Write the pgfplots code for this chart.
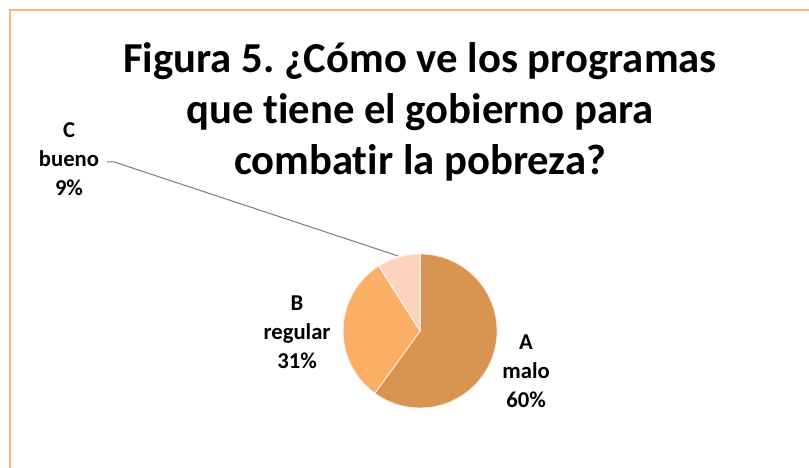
\documentclass[border=0pt]{standalone}
\usepackage{pgfplots}
\usepackage{pgfplotstable}
\pgfplotsset{compat=1.18}
\usepackage{fontspec}
\setmainfont{Carlito}[Ligatures={NoCommon}]
\frenchspacing
\definecolor{sliceA}{HTML}{DA9452}
\definecolor{sliceB}{HTML}{FAAF64}
\definecolor{sliceC}{HTML}{FCD4BE}
\definecolor{frameor}{HTML}{FBB877}
\pgfplotstableread{
cat name value
A malo 60
B regular 31
C bueno 9
}\piedata
\begin{document}
\begin{tikzpicture}
\pgfplotstablegetelem{0}{value}\of\piedata \let\va\pgfplotsretval
\pgfplotstablegetelem{1}{value}\of\piedata \let\vb\pgfplotsretval
\pgfplotstablegetelem{2}{value}\of\piedata \let\vc\pgfplotsretval
\pgfmathsetmacro\aA{90}
\pgfmathsetmacro\aB{90-3.6*\va}
\pgfmathsetmacro\aC{\aB-3.6*\vb}
\pgfmathsetmacro\aD{\aC-3.6*\vc}
\begin{axis}[x=0.02cm,y=0.02cm,xmin=0,xmax=809,ymin=0,ymax=468,
  hide axis,clip=false,anchor=origin,at={(0,0)}]
% frame
\draw[frameor,line width=0.04cm] (axis cs:10,0) -- (axis cs:10,458) -- (axis cs:809,458);
% slices
\fill[sliceA,draw=white!80!sliceA,line width=0.5pt] (axis cs:420,137) -- ++(\aA:1.54cm) arc[start angle=\aA,end angle=\aB,radius=1.54cm] -- cycle;
\fill[sliceB,draw=white!80!sliceB,line width=0.5pt] (axis cs:420,137) -- ++(\aB:1.54cm) arc[start angle=\aB,end angle=\aC,radius=1.54cm] -- cycle;
\fill[sliceC,draw=white!80!sliceC,line width=0.5pt] (axis cs:420,137) -- ++(\aC:1.54cm) arc[start angle=\aC,end angle=\aD,radius=1.54cm] -- cycle;
% leader line
\draw[gray,line width=0.6pt] (axis cs:107,306) -- (axis cs:114,306) -- (axis cs:398,212);
% title
\node[align=center,font=\bfseries\fontsize{24.3}{29.2}\selectfont] at (axis cs:420,356)
 {Figura 5. ¿Cómo ve los programas\\que tiene el gobierno para\\combatir la pobreza?};
% labels
\node[align=center,font=\bfseries\fontsize{12.9}{16.4}\selectfont] at (axis cs:69,309) {C\\bueno\\\vc\%};
\node[align=center,font=\bfseries\fontsize{12.9}{16.4}\selectfont] at (axis cs:297,136) {B\\regular\\\vb\%};
\node[align=center,font=\bfseries\fontsize{12.9}{16.4}\selectfont] at (axis cs:526,97) {A\\malo\\\va\%};
\end{axis}
\pgfresetboundingbox
\useasboundingbox (0,0) rectangle (16.18cm,9.36cm);
\end{tikzpicture}
\end{document}
